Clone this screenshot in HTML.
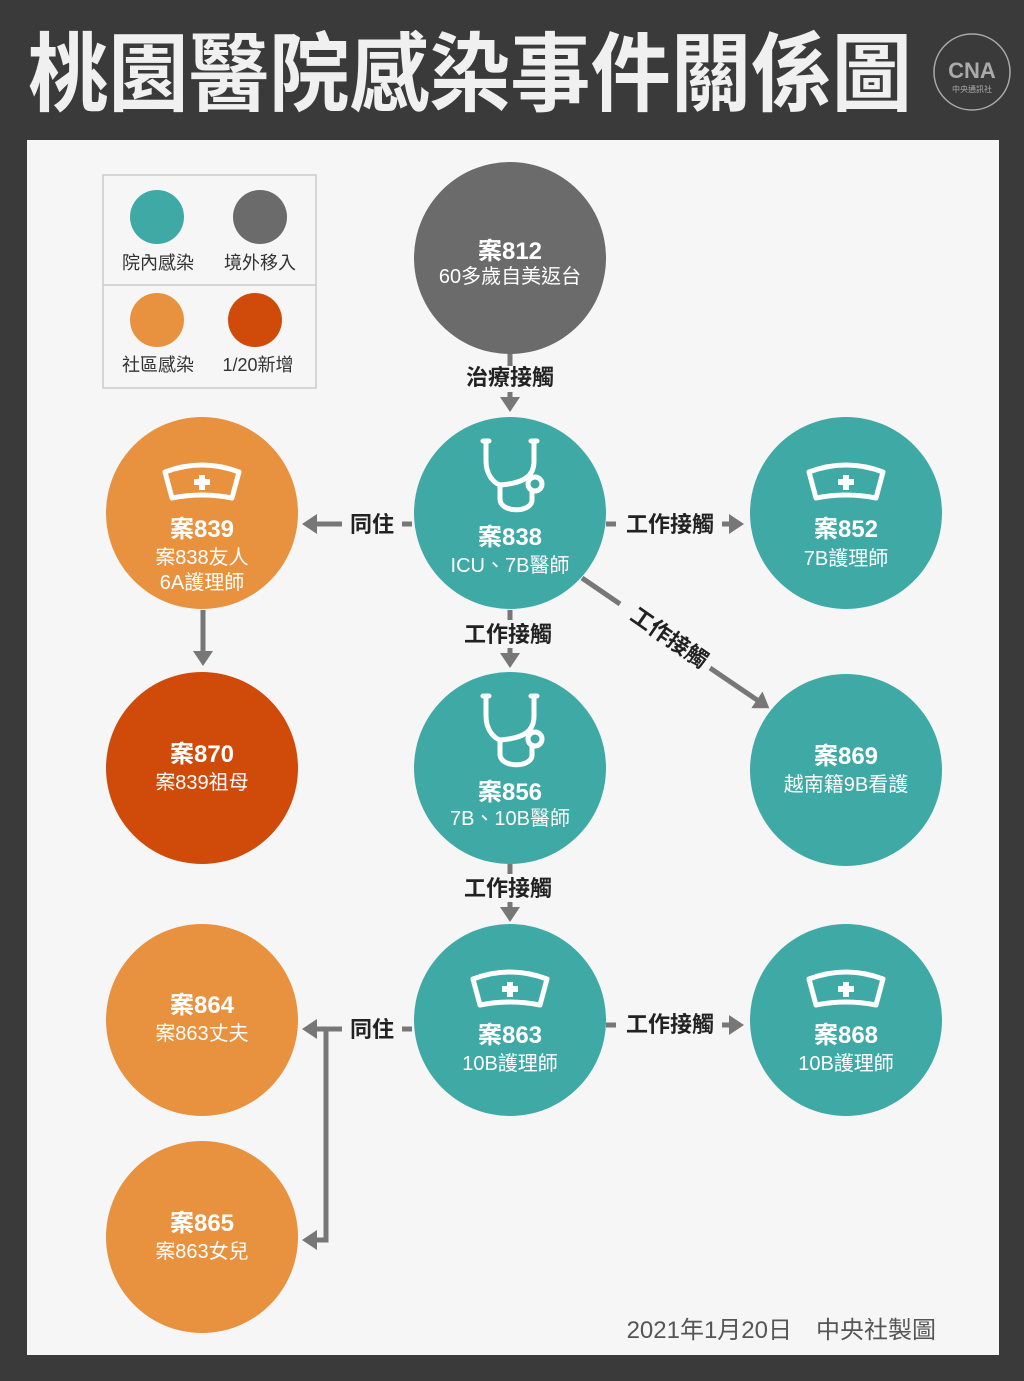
<!DOCTYPE html>
<html><head><meta charset="utf-8"><style>
html,body{margin:0;padding:0;background:#3a3a3a;}
svg{display:block;}
text{font-family:"Liberation Sans","Noto Sans CJK TC",sans-serif;}
</style></head><body>
<svg width="1024" height="1381" viewBox="0 0 1024 1381" xmlns="http://www.w3.org/2000/svg">
<defs>
<g id="steth" fill="none" stroke="#fff" stroke-width="5" stroke-linecap="round">
  <path d="M-27,-72 H-21 M-24,-72 V-52 C-24,-38 -16,-30 -10,-28 M27,-72 H21 M24,-72 V-52 C24,-38 16,-30 -10,-28"/>
  <path d="M-10,-26 V-14 C-10,0 20,0 22,-12 V-22"/>
  <circle cx="25" cy="-29" r="7"/>
</g>
<g id="cap">
  <path d="M-37,-8 Q0,-22 37,-8 L30,18 Q0,12 -30,18 Z" fill="none" stroke="#fff" stroke-width="5" stroke-linejoin="round"/>
  <path d="M-3,-5 H3 V-1 H8 V5 H3 V10 H-3 V5 H-8 V-1 H-3 Z" fill="#fff"/>
</g>
<marker id="ah" markerWidth="4" markerHeight="4" refX="2.2" refY="2" orient="auto" markerUnits="strokeWidth"><path d="M0,0 L3,2 L0,4 Z" fill="#777"/></marker>
</defs>
<rect width="1024" height="1381" fill="#3a3a3a"/>
<text x="28" y="104" font-size="86" font-weight="bold" fill="#f0f0f0" textLength="884" lengthAdjust="spacingAndGlyphs">桃園醫院感染事件關係圖</text>
<circle cx="972" cy="72" r="38" fill="none" stroke="#aaa" stroke-width="1.5"/>
<text x="972" y="78" font-size="22" font-weight="bold" fill="#aaa" text-anchor="middle">CNA</text>
<text x="972" y="92" font-size="8" fill="#aaa" text-anchor="middle">中央通訊社</text>
<rect x="27" y="140" width="972" height="1215" fill="#f6f6f6"/>
<!-- legend -->
<rect x="103" y="175" width="213" height="213" fill="none" stroke="#ccc" stroke-width="1.5"/>
<line x1="103" y1="285" x2="316" y2="285" stroke="#ccc" stroke-width="1.5"/>
<circle cx="157" cy="217" r="27" fill="#3fa9a5"/><circle cx="260" cy="217" r="27" fill="#6b6b6b"/>
<circle cx="157" cy="320" r="27" fill="#e8913f"/><circle cx="255" cy="320" r="27" fill="#d04a0a"/>
<g font-size="18" fill="#333" text-anchor="middle">
<text x="158" y="269">院內感染</text><text x="260" y="269">境外移入</text>
<text x="158" y="371">社區感染</text><text x="258" y="371">1/20新增</text></g>
<!-- connectors -->
<g stroke="#777" stroke-width="5" fill="none">
<line x1="510" y1="353" x2="510" y2="366"/><line x1="510" y1="392" x2="510" y2="408" marker-end="url(#ah)"/>
<line x1="412" y1="524" x2="402" y2="524"/><line x1="342" y1="524" x2="306" y2="524" marker-end="url(#ah)"/>
<line x1="606" y1="524" x2="616" y2="524"/><line x1="722" y1="524" x2="740" y2="524" marker-end="url(#ah)"/>
<line x1="510" y1="610" x2="510" y2="620"/><line x1="510" y1="648" x2="510" y2="664" marker-end="url(#ah)"/>
<line x1="582" y1="578" x2="620" y2="604"/><line x1="710" y1="668" x2="766" y2="706" marker-end="url(#ah)"/>
<line x1="203" y1="610" x2="203" y2="662" marker-end="url(#ah)"/>
<line x1="510" y1="864" x2="510" y2="874"/><line x1="510" y1="902" x2="510" y2="918" marker-end="url(#ah)"/>
<line x1="606" y1="1025" x2="616" y2="1025"/><line x1="722" y1="1025" x2="740" y2="1025" marker-end="url(#ah)"/>
<line x1="412" y1="1029" x2="402" y2="1029"/><line x1="342" y1="1029" x2="306" y2="1029" marker-end="url(#ah)"/>
<polyline points="326,1029 326,1240 306,1240" marker-end="url(#ah)"/>
</g>
<g font-size="22" fill="#222" font-weight="bold" text-anchor="middle">
<text x="510" y="385">治療接觸</text>
<text x="372" y="532">同住</text>
<text x="670" y="532">工作接觸</text>
<text x="508" y="642">工作接觸</text>
<text x="508" y="896">工作接觸</text>
<text x="670" y="1032">工作接觸</text>
<text x="372" y="1037">同住</text>
<text transform="translate(665,644) rotate(34.8)">工作接觸</text>
</g>
<!-- nodes -->
<circle cx="510" cy="258" r="96" fill="#6b6b6b"/>
<circle cx="510" cy="513" r="96" fill="#3fa9a5"/>
<circle cx="202" cy="513" r="96" fill="#e8913f"/>
<circle cx="846" cy="513" r="96" fill="#3fa9a5"/>
<circle cx="202" cy="768" r="96" fill="#d04a0a"/>
<circle cx="510" cy="768" r="96" fill="#3fa9a5"/>
<circle cx="846" cy="770" r="96" fill="#3fa9a5"/>
<circle cx="510" cy="1020" r="96" fill="#3fa9a5"/>
<circle cx="846" cy="1020" r="96" fill="#3fa9a5"/>
<circle cx="202" cy="1020" r="96" fill="#e8913f"/>
<circle cx="202" cy="1237" r="96" fill="#e8913f"/>
<use href="#steth" x="510" y="513"/>
<use href="#steth" x="510" y="768"/>
<use href="#cap" x="202" y="480"/>
<use href="#cap" x="846" y="480"/>
<use href="#cap" x="510" y="987"/>
<use href="#cap" x="846" y="987"/>
<g fill="#fff" text-anchor="middle">
<g font-size="24" font-weight="bold">
<text x="510" y="259">案812</text><text x="510" y="545">案838</text><text x="202" y="537">案839</text>
<text x="846" y="537">案852</text><text x="202" y="762">案870</text><text x="510" y="800">案856</text>
<text x="846" y="764">案869</text><text x="510" y="1043">案863</text><text x="846" y="1043">案868</text>
<text x="202" y="1013">案864</text><text x="202" y="1231">案865</text></g>
<g font-size="20">
<text x="510" y="283">60多歲自美返台</text><text x="510" y="572">ICU、7B醫師</text>
<text x="202" y="564">案838友人</text><text x="202" y="589">6A護理師</text>
<text x="846" y="565">7B護理師</text><text x="202" y="789">案839祖母</text>
<text x="510" y="825">7B、10B醫師</text><text x="846" y="791">越南籍9B看護</text>
<text x="510" y="1070">10B護理師</text><text x="846" y="1070">10B護理師</text>
<text x="202" y="1040">案863丈夫</text><text x="202" y="1258">案863女兒</text></g>
</g>
<text x="936" y="1338" font-size="24" fill="#555" text-anchor="end">2021年1月20日　中央社製圖</text>
</svg>
</body></html>
